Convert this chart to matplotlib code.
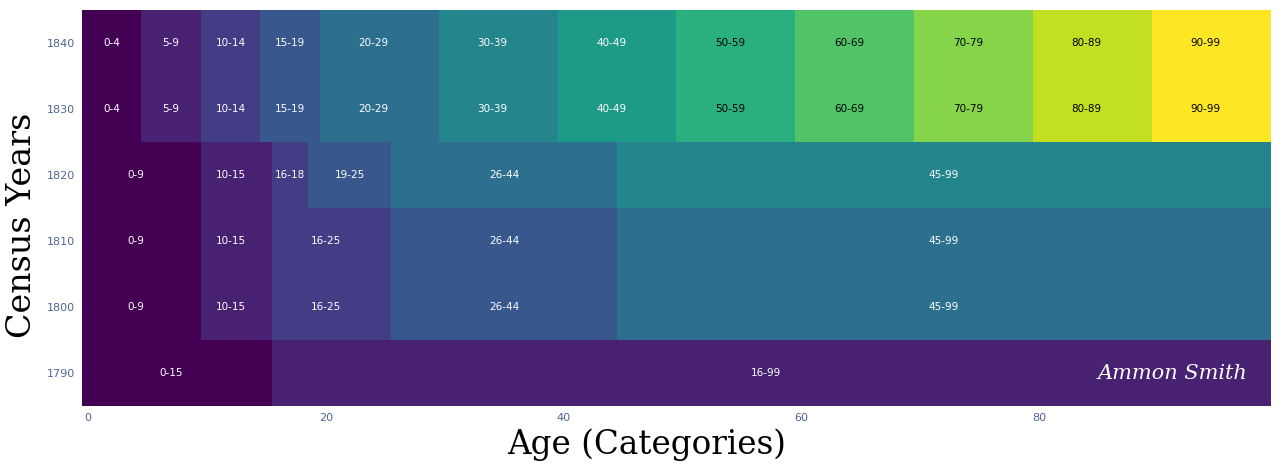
import numpy as np
import matplotlib.pyplot as plt
from matplotlib.colors import Normalize

# census years and the age brackets used in each one
years = [1790, 1800, 1810, 1820, 1830, 1840]

bins_1790 = [(0, 15), (16, 99)]
bins_1800 = [(0, 9), (10, 15), (16, 25), (26, 44), (45, 99)]
bins_1810 = [(0, 9), (10, 15), (16, 25), (26, 44), (45, 99)]
bins_1820 = [(0, 9), (10, 15), (16, 18), (19, 25), (26, 44), (45, 99)]
bins_1830 = [(0, 4), (5, 9), (10, 14), (15, 19), (20, 29), (30, 39),
             (40, 49), (50, 59), (60, 69), (70, 79), (80, 89), (90, 99)]
bins_1840 = [(0, 4), (5, 9), (10, 14), (15, 19), (20, 29), (30, 39),
             (40, 49), (50, 59), (60, 69), (70, 79), (80, 89), (90, 99)]

all_bins = [bins_1790, bins_1800, bins_1810, bins_1820, bins_1830, bins_1840]
ages = np.arange(0, 100)

# category index per age, per census year
z = np.zeros((len(years), len(ages)))
for r, bins in enumerate(all_bins):
    for k, (lo, hi) in enumerate(bins):
        z[r, lo:hi + 1] = k

W, H = 1285, 473
fig = plt.figure(figsize=(W / 100, H / 100), dpi=100)
ax = fig.add_axes([82 / W, (H - 406) / H, (1271 - 82) / W, (406 - 10) / H])

norm = Normalize(0, 11)
cmap = plt.get_cmap('viridis')
ax.imshow(z, cmap=cmap, norm=norm, aspect='auto', origin='lower',
          extent=[-0.5, 99.5, -0.5, len(years) - 0.5], interpolation='nearest')

for r, bins in enumerate(all_bins):
    for k, (lo, hi) in enumerate(bins):
        col = 'black' if k >= 7 else 'white'
        ax.text((lo + hi) // 2, r, f'{lo}-{hi}', ha='center', va='center',
                fontsize=7.5, color=col, family='DejaVu Sans')

ax.set_xlim(-0.5, 99.5)
ax.set_ylim(-0.5, len(years) - 0.5)
ax.set_xticks([0, 20, 40, 60, 80])
ax.set_yticks(range(len(years)))
ax.set_yticklabels([str(y) for y in years])
ax.tick_params(length=0, labelsize=8, labelcolor='#4f6590', pad=5)
for s in ax.spines.values():
    s.set_visible(False)

fig.text(647 / W, 1 - 445 / H, 'Age (Categories)', ha='center', va='center',
         fontsize=23.5, family='DejaVu Serif')
fig.text(22 / W, 1 - 225 / H, 'Census Years', ha='center', va='center',
         rotation=90, fontsize=24, family='DejaVu Serif')

# signature
ax.text(97.5, 0, 'Ammon Smith', ha='right', va='center', color='white',
        fontsize=15, family='DejaVu Serif', style='italic')

plt.savefig('out.png', dpi=100)
